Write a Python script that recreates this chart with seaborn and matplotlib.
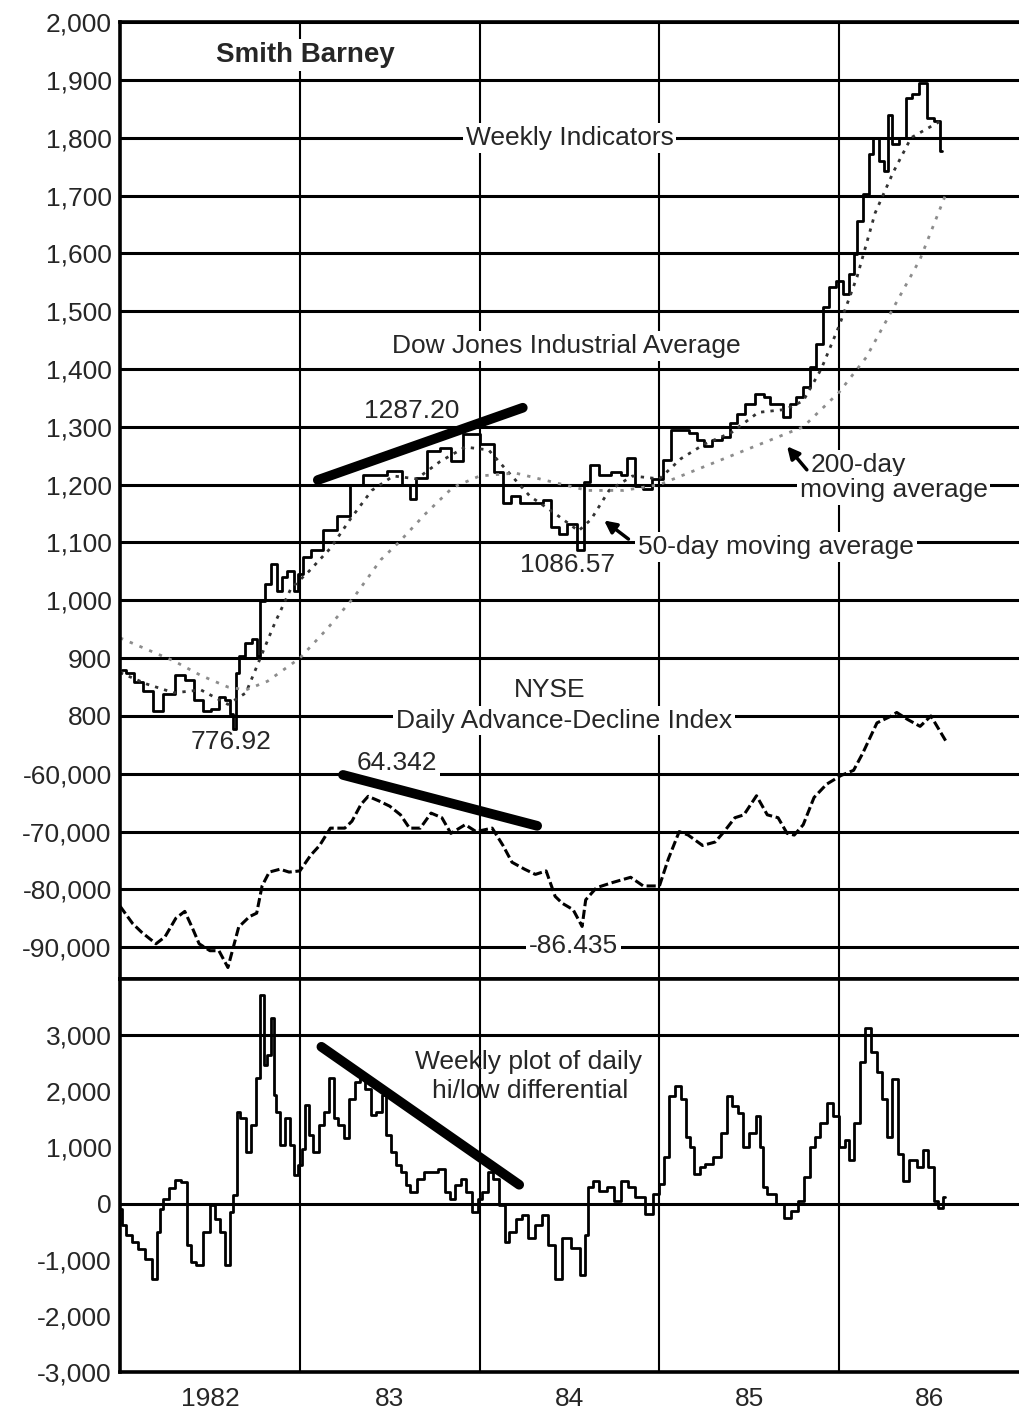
import matplotlib
matplotlib.use("Agg")
import matplotlib.pyplot as plt
import seaborn as sns

# ---------------- data ----------------
# Dow Jones Industrial Average, weekly (decimal year, close)
djia_year = [1982.01, 1982.06, 1982.10, 1982.16, 1982.21, 1982.27, 1982.34, 1982.38, 1982.44, 1982.48,
             1982.53, 1982.57, 1982.60, 1982.62, 1982.64, 1982.65, 1982.67, 1982.72, 1982.75, 1982.77,
             1982.79, 1982.82, 1982.86, 1982.89, 1982.91, 1982.95, 1982.98, 1983.00, 1983.03, 1983.09,
             1983.17, 1983.24, 1983.32, 1983.38, 1983.44, 1983.53, 1983.61, 1983.62, 1983.67, 1983.74,
             1983.82, 1983.86, 1983.95, 1984.05, 1984.11, 1984.15, 1984.20, 1984.25, 1984.33, 1984.37,
             1984.42, 1984.46, 1984.51, 1984.57, 1984.59, 1984.64, 1984.69, 1984.77, 1984.80, 1984.84,
             1984.89, 1984.93, 1984.99, 1985.05, 1985.08, 1985.14, 1985.19, 1985.23, 1985.27, 1985.32,
             1985.38, 1985.41, 1985.45, 1985.50, 1985.56, 1985.60, 1985.63, 1985.67, 1985.71, 1985.74,
             1985.78, 1985.82, 1985.85, 1985.89, 1985.93, 1985.96, 1986.00, 1986.04, 1986.07, 1986.09,
             1986.11, 1986.15, 1986.18, 1986.20, 1986.24, 1986.26, 1986.28, 1986.31, 1986.35, 1986.39,
             1986.42, 1986.47, 1986.51, 1986.55, 1986.57]
djia_close = [880, 874, 859, 844, 809, 838, 871, 862, 827, 809,
              812, 833, 827, 803, 777, 874, 904, 927, 933, 904,
              998, 1028, 1063, 1016, 1040, 1051, 1016, 1046, 1075, 1087,
              1122, 1146, 1199, 1217, 1217, 1223, 1199, 1176, 1211, 1259,
              1264, 1241, 1287, 1270, 1222, 1168, 1180, 1168, 1168, 1174,
              1126, 1114, 1132, 1087, 1204, 1234, 1216, 1222, 1216, 1246,
              1198, 1192, 1210, 1243, 1294, 1294, 1289, 1277, 1266, 1277,
              1283, 1306, 1323, 1340, 1357, 1352, 1340, 1340, 1317, 1340,
              1352, 1369, 1403, 1444, 1507, 1541, 1553, 1530, 1564, 1599,
              1656, 1702, 1771, 1800, 1760, 1743, 1840, 1789, 1800, 1869,
              1875, 1895, 1834, 1829, 1777]

ma50_year = [1982.00, 1982.15, 1982.30, 1982.45, 1982.60, 1982.70, 1982.78, 1982.86, 1982.95, 1983.05,
             1983.17, 1983.28, 1983.40, 1983.52, 1983.65, 1983.78, 1983.92, 1984.05, 1984.15, 1984.28,
             1984.42, 1984.55, 1984.62, 1984.72, 1984.85, 1985.00, 1985.12, 1985.25, 1985.40, 1985.55,
             1985.70, 1985.80, 1985.90, 1986.00, 1986.10, 1986.20, 1986.30, 1986.40, 1986.57]
ma50_val = [875, 855, 840, 845, 820, 840, 900, 960, 1020, 1050,
            1090, 1140, 1190, 1215, 1210, 1240, 1265, 1260, 1225, 1180,
            1150, 1120, 1140, 1190, 1215, 1210, 1245, 1270, 1290, 1325,
            1330, 1345, 1400, 1475, 1560, 1670, 1740, 1800, 1830]

ma200_year = [1982.00, 1982.15, 1982.30, 1982.45, 1982.60, 1982.70, 1982.82, 1983.00, 1983.15, 1983.30,
              1983.45, 1983.55, 1983.70, 1983.85, 1984.00, 1984.20, 1984.40, 1984.60, 1984.80, 1985.00,
              1985.20, 1985.40, 1985.60, 1985.80, 1985.90, 1986.00, 1986.15, 1986.30, 1986.45, 1986.59]
ma200_val = [935, 915, 895, 870, 850, 845, 860, 900, 950, 1005,
             1070, 1100, 1150, 1195, 1215, 1220, 1205, 1190, 1190, 1200,
             1225, 1250, 1275, 1300, 1330, 1360, 1420, 1505, 1590, 1700]

# NYSE daily advance-decline index
ad_year = [1982.00, 1982.07, 1982.12, 1982.20, 1982.25, 1982.31, 1982.36, 1982.40, 1982.44, 1982.50,
           1982.55, 1982.60, 1982.63, 1982.66, 1982.72, 1982.76, 1982.79, 1982.83, 1982.89, 1982.94,
           1983.00, 1983.06, 1983.11, 1983.17, 1983.25, 1983.29, 1983.34, 1983.38, 1983.44, 1983.50,
           1983.56, 1983.61, 1983.67, 1983.73, 1983.79, 1983.84, 1983.92, 1983.98, 1984.07, 1984.13,
           1984.18, 1984.25, 1984.31, 1984.37, 1984.42, 1984.46, 1984.52, 1984.57, 1984.59, 1984.65,
           1984.74, 1984.84, 1984.91, 1985.00, 1985.05, 1985.11, 1985.16, 1985.24, 1985.31, 1985.36,
           1985.42, 1985.47, 1985.54, 1985.60, 1985.66, 1985.71, 1985.75, 1985.80, 1985.86, 1985.93,
           1986.01, 1986.08, 1986.13, 1986.21, 1986.29, 1986.32, 1986.38, 1986.45, 1986.51, 1986.60]
ad_val = [-82900, -85900, -87400, -89400, -88200, -85000, -83800, -86500, -89400, -90600,
          -90600, -93500, -90000, -86500, -84700, -84100, -79400, -77000, -76500, -77000,
          -76800, -74100, -72400, -69400, -69400, -68200, -65300, -63900, -64700, -65600,
          -67100, -69400, -69400, -66800, -67600, -70300, -68800, -70000, -69400, -72400,
          -75300, -76500, -77400, -76800, -81200, -82400, -83500, -86400, -81800, -79700,
          -78800, -77900, -79400, -79400, -74700, -70000, -70600, -72400, -71800, -70000,
          -67600, -67100, -63800, -67100, -67600, -70300, -70600, -68800, -64100, -61800,
          -60300, -59400, -56500, -51200, -50000, -49400, -50600, -51800, -50000, -54700]

# weekly plot of daily hi/low differential
hl_year = [1982.00, 1982.02, 1982.05, 1982.08, 1982.12, 1982.16, 1982.19, 1982.22, 1982.23, 1982.25,
           1982.29, 1982.32, 1982.36, 1982.38, 1982.41, 1982.44, 1982.48, 1982.52, 1982.54, 1982.57,
           1982.60, 1982.62, 1982.64, 1982.66, 1982.68, 1982.72, 1982.74, 1982.77, 1982.79, 1982.81,
           1982.83, 1982.85, 1982.86, 1982.88, 1982.90, 1982.93, 1982.96, 1982.98, 1983.00, 1983.02,
           1983.04, 1983.06, 1983.09, 1983.12, 1983.15, 1983.18, 1983.20, 1983.23, 1983.26, 1983.29,
           1983.32, 1983.35, 1983.38, 1983.41, 1983.44, 1983.47, 1983.49, 1983.52, 1983.55, 1983.58,
           1983.60, 1983.63, 1983.67, 1983.71, 1983.75, 1983.79, 1983.82, 1983.85, 1983.88, 1983.91,
           1983.94, 1983.98, 1984.00, 1984.03, 1984.06, 1984.09, 1984.13, 1984.15, 1984.18, 1984.22,
           1984.25, 1984.29, 1984.33, 1984.36, 1984.40, 1984.44, 1984.48, 1984.54, 1984.58, 1984.59,
           1984.62, 1984.64, 1984.69, 1984.73, 1984.76, 1984.81, 1984.84, 1984.89, 1984.95, 1984.98,
           1985.01, 1985.04, 1985.07, 1985.10, 1985.14, 1985.16, 1985.18, 1985.21, 1985.24, 1985.27,
           1985.33, 1985.36, 1985.39, 1985.42, 1985.45, 1985.48, 1985.52, 1985.55, 1985.57, 1985.58,
           1985.62, 1985.68, 1985.71, 1985.75, 1985.79, 1985.82, 1985.85, 1985.88, 1985.91, 1985.95,
           1985.98, 1986.02, 1986.04, 1986.07, 1986.10, 1986.13, 1986.16, 1986.19, 1986.23, 1986.25,
           1986.28, 1986.31, 1986.34, 1986.37, 1986.41, 1986.45, 1986.48, 1986.51, 1986.54, 1986.56,
           1986.59]
hl_val = [-90, -390, -560, -680, -800, -980, -1340, -500, -90, 90,
          270, 420, 390, -740, -1040, -1100, -500, -30, -270, -500,
          -1100, -150, 150, 1630, 1520, 920, 1400, 2230, 3710, 2470,
          2640, 3300, 1930, 1630, 1040, 1520, 1040, 505, 680, 980,
          1750, 1220, 920, 1400, 1630, 2230, 1520, 1400, 1160, 1870,
          2170, 2230, 2050, 1570, 1630, 1930, 1220, 920, 680, 565,
          330, 210, 445, 565, 565, 625, 210, 90, 330, 445,
          210, -150, 90, 210, 565, 445, -30, -680, -500, -270,
          -210, -620, -390, -210, -740, -1340, -615, -795, -1280, -555,
          290, 410, 230, 290, 50, 410, 290, 110, -190, 170,
          350, 830, 1915, 2100, 1855, 1190, 1010, 530, 650, 710,
          830, 1250, 1915, 1735, 1615, 1010, 1250, 1555, 1010, 290,
          170, -10, -250, -130, 50, 470, 1010, 1190, 1435, 1795,
          1555, 1010, 1130, 770, 1435, 2520, 3120, 2700, 2340, 1855,
          1190, 2220, 890, 410, 770, 650, 950, 650, 50, -70,
          110]

# hand-drawn trend lines
trend_djia_x = [1983.10, 1984.24]
trend_djia_y = [1208, 1333]
trend_ad_x = [1983.24, 1984.32]
trend_ad_y = [-60200, -69000]
trend_hl_x = [1983.12, 1984.22]
trend_hl_y = [2793, 336]

djia_ticks = list(range(400, 2001, 100))
ad_ticks = [-90000, -80000, -70000, -60000]
hl_ticks = [-3000, -2000, -1000, 0, 1000, 2000, 3000]
hl_rules = [0, 3000]          # the lower panel only has rules at these levels
year_grid = [1983, 1984, 1985, 1986]
year_mid = [1982.5, 1983.5, 1984.5, 1985.5, 1986.5]
year_labels = ["1982", "83", "84", "85", "86"]

# ---------------- figure ----------------
sns.set_style("white")
plt.rcParams["font.family"] = ["Liberation Sans", "DejaVu Sans"]
FS = 19

fig = plt.figure(figsize=(10.19, 14.14), dpi=100)
ax1 = fig.add_axes([0.1178, 0.3076, 0.8822, 0.6768])
ax3 = fig.add_axes([0.1178, 0.0297, 0.8822, 0.2779], sharex=ax1)
ax2 = ax1.twinx()

ax1.set_xlim(1982, 1987)
ax1.set_ylim(345, 2000)
# A/D axis aligned so that -60,000 sits one grid line below 800
ax2.set_ylim(-95500, 70000)
ax3.set_ylim(-3000, 4000)

# series
sns.lineplot(x=djia_year, y=djia_close, ax=ax1, color="k", lw=2.0,
             drawstyle="steps-mid", estimator=None)
sns.lineplot(x=ma50_year, y=ma50_val, ax=ax1, color="0.2", lw=2.0,
             linestyle=(0, (1.2, 2.2)), estimator=None)
sns.lineplot(x=ma200_year, y=ma200_val, ax=ax1, color="0.55", lw=2.0,
             linestyle=(0, (1.2, 2.6)), estimator=None)
sns.lineplot(x=ad_year, y=ad_val, ax=ax2, color="k", lw=2.2,
             linestyle=(0, (3, 1.2)), estimator=None)
sns.lineplot(x=hl_year, y=hl_val, ax=ax3, color="k", lw=2.0,
             drawstyle="steps-mid", estimator=None)

ax1.plot(trend_djia_x, trend_djia_y, color="k", lw=7, solid_capstyle="round")
ax2.plot(trend_ad_x, trend_ad_y, color="k", lw=7, solid_capstyle="round")
ax3.plot(trend_hl_x, trend_hl_y, color="k", lw=7, solid_capstyle="round")

# ticks and grid
ax1.set_yticks(djia_ticks, labels=["" if v < 800 else f"{v:,}" for v in djia_ticks])
ax2.set_yticks(ad_ticks, labels=[f"{v:,}" for v in ad_ticks])
ax2.yaxis.tick_left()
ax3.set_yticks(hl_ticks, labels=[f"{v:,}" for v in hl_ticks])

ax3.set_xticks(year_grid, labels=[""] * len(year_grid))
ax3.set_xticks(year_mid, labels=year_labels, minor=True)
ax1.tick_params(axis="x", which="both", labelbottom=False)

for ax in (ax1, ax2, ax3):
    ax.tick_params(axis="y", length=0, pad=6, labelsize=FS)
    ax.tick_params(axis="x", which="both", length=0, pad=11, labelsize=FS)
    ax.set_xlabel("")
    ax.set_ylabel("")

for ax in (ax1, ax3):
    ax.grid(True, axis="x", which="major", color="k", lw=1.5)
    for side in ("left", "top", "bottom"):
        ax.spines[side].set_color("k")
        ax.spines[side].set_linewidth(2.6)
    ax.spines["right"].set_visible(False)
ax1.grid(True, axis="y", color="k", lw=2.2)
ax3.grid(False, axis="y")
for v in hl_rules:
    ax3.axhline(v, color="k", lw=2.2, zorder=0.5)
ax2.grid(False)
for s in ax2.spines.values():
    s.set_visible(False)

# annotations
box = dict(facecolor="white", edgecolor="none", pad=2)
ax1.text(1983.03, 1943, "Smith Barney", fontsize=FS + 1, fontweight="bold",
         ha="center", va="center", bbox=box)
ax1.text(1984.50, 1800, "Weekly Indicators", fontsize=FS, ha="center", va="center", bbox=box)
ax1.text(1984.48, 1440, "Dow Jones Industrial Average", fontsize=FS,
         ha="center", va="center", bbox=box)
ax1.text(1983.62, 1327, "1287.20", fontsize=FS, ha="center", va="center")
ax1.text(1985.84, 1234, "200-day", fontsize=FS, ha="left", va="center", bbox=box)
ax1.text(1985.78, 1190, "moving average", fontsize=FS, ha="left", va="center", bbox=box)
ax1.annotate("", xy=(1985.70, 1270), xytext=(1985.83, 1222),
             arrowprops=dict(arrowstyle="-|>", color="k", lw=2.5, mutation_scale=18))
ax1.text(1985.65, 1092, "50-day moving average", fontsize=FS, ha="center", va="center", bbox=box)
ax1.annotate("", xy=(1984.68, 1141), xytext=(1984.84, 1103),
             arrowprops=dict(arrowstyle="-|>", color="k", lw=2.5, mutation_scale=18))
ax1.text(1984.49, 1061, "1086.57", fontsize=FS, ha="center", va="center")
ax1.text(1982.62, 755, "776.92", fontsize=FS, ha="center", va="center")
ax1.text(1984.39, 845, "NYSE", fontsize=FS, ha="center", va="center")
ax1.text(1984.47, 792, "Daily Advance-Decline Index", fontsize=FS,
         ha="center", va="center", bbox=box)
ax1.text(1983.54, 719, "64.342", fontsize=FS, ha="center", va="center", bbox=box)
ax1.text(1984.52, 402, "-86.435", fontsize=FS, ha="center", va="center", bbox=box)
ax3.text(1984.27, 2528, "Weekly plot of daily", fontsize=FS, ha="center", va="center")
ax3.text(1984.28, 1998, "hi/low differential", fontsize=FS, ha="center", va="center")

fig.savefig("out.png", dpi=100)
